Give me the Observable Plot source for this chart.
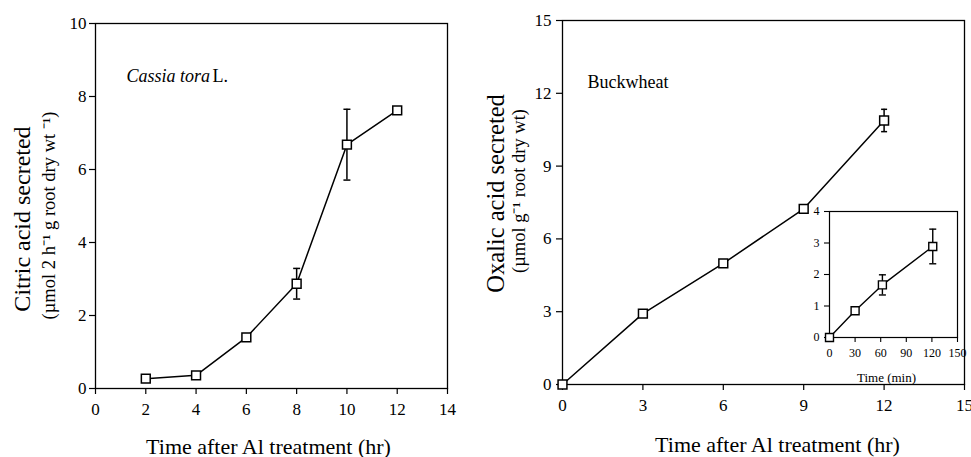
<!DOCTYPE html>
<html>
<head>
<meta charset="utf-8">
<script src="https://cdn.jsdelivr.net/npm/d3@7"></script>
<script src="https://cdn.jsdelivr.net/npm/@observablehq/plot@0.6"></script>
<style>
  html, body { margin: 0; padding: 0; background: white; overflow: hidden; }
  #root { position: relative; width: 971px; height: 457px; background: white; }
  .panel { position: absolute; }
</style>
</head>
<body>
<div id="root"></div>
<script>
// ---- Data ----
const citricTime = [2, 4, 6, 8, 10, 12];
const citricValue = [0.27, 0.36, 1.40, 2.87, 6.68, 7.62];
const citricErr = [0, 0, 0, 0.42, 0.97, 0];
const citricXTicks = [0, 2, 4, 6, 8, 10, 12, 14];
const citricYTicks = [0, 2, 4, 6, 8, 10];

const oxalicTime = [0, 3, 6, 9, 12];
const oxalicValue = [0, 2.92, 4.99, 7.24, 10.88];
const oxalicErr = [0, 0, 0, 0, 0.46];
const oxalicXTicks = [0, 3, 6, 9, 12, 15];
const oxalicYTicks = [0, 3, 6, 9, 12, 15];

const insetTime = [0, 30, 62, 121];
const insetValue = [0, 0.85, 1.67, 2.89];
const insetErr = [0, 0, 0.32, 0.55];
const insetXTicks = [0, 30, 60, 90, 120, 150];
const insetYTicks = [0, 1, 2, 3, 4];

const xTitle = "Time after Al treatment (hr)";
const citricTitle = "Citric acid secreted";
const citricUnits = "(µmol 2 h⁻¹ g root dry wt ⁻¹)";
const oxalicTitle = "Oxalic acid secreted";
const oxalicUnits = "(µmol g⁻¹ root dry wt)";
const insetTitle = "Time (min)";

// ---- helpers ----
const rows = (t, v, e) => t.map((x, i) => ({x, v: v[i], e: e[i]}));
const capSymbol = {
  draw(ctx, size) {
    const h = Math.sqrt(size / Math.PI);
    ctx.moveTo(-h, 0);
    ctx.lineTo(h, 0);
  }
};
const font = "'Liberation Serif', 'Times New Roman', serif";
const fmt = d3.format("d");

function seriesMarks(data, opts) {
  const err = data.filter(d => d.e > 0);
  return [
    Plot.line(data, {x: "x", y: "v", stroke: "black", strokeWidth: opts.lw}),
    Plot.ruleX(err, {x: "x", y1: d => d.v - d.e, y2: d => d.v + d.e, stroke: "black", strokeWidth: opts.lw}),
    Plot.dot(err, {x: "x", y: d => d.v + d.e, symbol: capSymbol, r: opts.cap, stroke: "black", fill: "none", strokeWidth: opts.lw}),
    Plot.dot(err, {x: "x", y: d => d.v - d.e, symbol: capSymbol, r: opts.cap, stroke: "black", fill: "none", strokeWidth: opts.lw}),
    Plot.dot(data, {x: "x", y: "v", symbol: "square", r: opts.r, fill: "white", stroke: "black", strokeWidth: opts.lw})
  ];
}

function label(str, o) {
  return Plot.text([str], {text: d => d, textAnchor: "middle", lineAnchor: "middle", ...o});
}

function place(svg, left, top) {
  const wrap = document.createElement("div");
  wrap.className = "panel";
  wrap.style.left = left + "px";
  wrap.style.top = top + "px";
  wrap.appendChild(svg);
  document.getElementById("root").appendChild(wrap);
}

// ---- Left panel: Cassia tora ----
const left = Plot.plot({
  width: 480, height: 457,
  marginLeft: 95, marginRight: 33, marginTop: 23, marginBottom: 69,
  style: {fontFamily: font, fontSize: "17px", color: "black", background: "white", overflow: "visible"},
  x: {domain: [0, 14]},
  y: {domain: [0, 10]},
  marks: [
    Plot.frame({stroke: "black", strokeWidth: 1.3}),
    Plot.axisX({ticks: citricXTicks, tickFormat: fmt, tickSize: 6, tickPadding: 8, label: null, strokeWidth: 1.2}),
    Plot.axisY({ticks: citricYTicks, tickFormat: fmt, tickSize: 6, tickPadding: 3, label: null, strokeWidth: 1.2}),
    ...seriesMarks(rows(citricTime, citricValue, citricErr), {lw: 1.5, r: 5, cap: 3.5}),
    label(citricTitle, {frameAnchor: "left", rotate: -90, dx: -73, dy: 13, fontSize: 24}),
    label(citricUnits, {frameAnchor: "left", rotate: -90, dx: -46, dy: 9.5, fontSize: 18.5}),
    label(xTitle, {frameAnchor: "bottom", dx: -3, dy: 58, fontSize: 22}),
    label("Cassia tora", {frameAnchor: "top-left", textAnchor: "start", dx: 31, dy: 53, fontSize: 18, fontStyle: "italic"}),
    label("L.", {frameAnchor: "top-left", textAnchor: "start", dx: 117, dy: 53, fontSize: 18})
  ]
});
place(left, 0, 0);

// ---- Right panel: Buckwheat ----
const right = Plot.plot({
  width: 491, height: 457,
  marginLeft: 82, marginRight: 7, marginTop: 20, marginBottom: 73,
  style: {fontFamily: font, fontSize: "17px", color: "black", background: "white", overflow: "visible"},
  x: {domain: [0, 15]},
  y: {domain: [0, 15]},
  marks: [
    Plot.frame({stroke: "black", strokeWidth: 1.3}),
    Plot.axisX({ticks: oxalicXTicks, tickFormat: fmt, tickSize: 6, tickPadding: 8, label: null, strokeWidth: 1.2}),
    Plot.axisY({ticks: oxalicYTicks, tickFormat: fmt, tickSize: 6, tickPadding: 5, label: null, strokeWidth: 1.2}),
    ...seriesMarks(rows(oxalicTime, oxalicValue, oxalicErr), {lw: 1.5, r: 5, cap: 3}),
    label(oxalicTitle, {frameAnchor: "left", rotate: -90, dx: -66, dy: -9, fontSize: 24.5}),
    label(oxalicUnits, {frameAnchor: "left", rotate: -90, dx: -43, dy: -11.5, fontSize: 18.5}),
    label(xTitle, {frameAnchor: "bottom", dx: 14, dy: 60, fontSize: 22}),
    label("Buckwheat", {frameAnchor: "top-left", textAnchor: "start", dx: 25, dy: 62, fontSize: 18})
  ]
});
place(right, 480, 0);

// ---- Inset: minutes ----
const inset = Plot.plot({
  width: 165, height: 190,
  marginLeft: 29, marginRight: 8, marginTop: 11, marginBottom: 53,
  style: {fontFamily: font, fontSize: "12px", color: "black", background: "transparent", overflow: "visible"},
  x: {domain: [0, 150]},
  y: {domain: [0, 4]},
  marks: [
    Plot.frame({stroke: "black", strokeWidth: 1.2, fill: "white"}),
    Plot.axisX({ticks: insetXTicks, tickFormat: fmt, tickSize: 5, tickPadding: 6, label: null, strokeWidth: 1.1}),
    Plot.axisY({ticks: insetYTicks, tickFormat: fmt, tickSize: 5, tickPadding: 5, label: null, strokeWidth: 1.1}),
    ...seriesMarks(rows(insetTime, insetValue, insetErr), {lw: 1.4, r: 4.5, cap: 3.5}),
    label(insetTitle, {frameAnchor: "bottom", dx: -7, dy: 40, fontSize: 13})
  ]
});
place(inset, 800, 200);
</script>
</body>
</html>
